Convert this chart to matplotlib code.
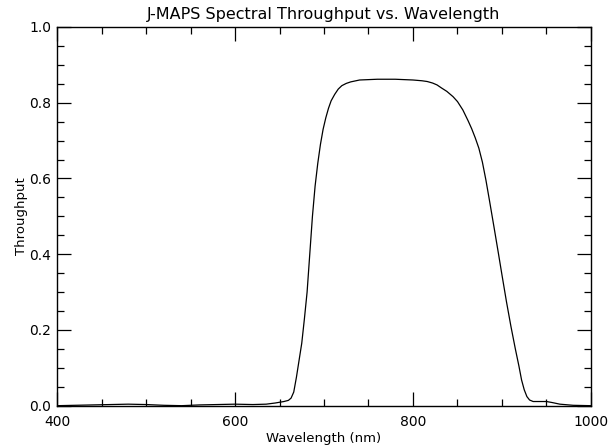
import matplotlib
matplotlib.use("Agg")
import matplotlib.pyplot as plt
from matplotlib.ticker import MultipleLocator, FormatStrFormatter

wavelength = [400, 420, 440, 460, 480, 500, 520, 540, 560, 580, 600, 620, 635, 645,
              650, 655, 660, 663, 666, 669, 672, 675, 678, 681, 684, 687, 690, 693,
              696, 699, 702, 705, 708, 712, 716, 720, 725, 730, 740, 750, 760, 770,
              780, 790, 800, 810, 816, 822, 827, 832, 838, 845, 850, 856, 862, 866,
              870, 874, 878, 882, 886, 891, 896, 900, 905, 910, 915, 919, 922, 925,
              928, 931, 935, 942, 950, 957, 965, 980, 1000]
throughput = [0.000, 0.001, 0.002, 0.003, 0.004, 0.003, 0.001, 0.000, 0.002, 0.003,
              0.004, 0.003, 0.004, 0.007, 0.009, 0.011, 0.014, 0.020, 0.036, 0.075,
              0.120, 0.165, 0.230, 0.300, 0.400, 0.500, 0.580, 0.640, 0.690, 0.730,
              0.760, 0.785, 0.805, 0.822, 0.836, 0.845, 0.851, 0.855, 0.860, 0.861,
              0.862, 0.862, 0.862, 0.861, 0.860, 0.858, 0.856, 0.852, 0.847, 0.839,
              0.830, 0.816, 0.803, 0.781, 0.752, 0.731, 0.707, 0.680, 0.643, 0.595,
              0.541, 0.472, 0.402, 0.345, 0.275, 0.210, 0.150, 0.105, 0.068, 0.042,
              0.024, 0.015, 0.011, 0.011, 0.011, 0.008, 0.004, 0.001, 0.000]

title = "J-MAPS Spectral Throughput vs. Wavelength"
xlabel = "Wavelength (nm)"
ylabel = "Throughput"

fig = plt.figure(figsize=(6.08, 4.46), dpi=100)
ax = fig.add_axes([0.0938, 0.0904, 0.8782, 0.8491])
ax.plot(wavelength, throughput, color="black", linewidth=0.9)
ax.set_xlim(400, 1000)
ax.set_ylim(0, 1.0)
ax.xaxis.set_major_locator(MultipleLocator(200))
ax.xaxis.set_minor_locator(MultipleLocator(50))
ax.yaxis.set_major_locator(MultipleLocator(0.2))
ax.yaxis.set_minor_locator(MultipleLocator(0.05))
ax.yaxis.set_major_formatter(FormatStrFormatter("%.1f"))
ax.tick_params(which="both", direction="in", top=True, right=True, width=0.9,
               labelsize=10, color="black")
ax.tick_params(which="major", length=10)
ax.tick_params(which="minor", length=5)
ax.tick_params(axis="x", pad=7)
ax.tick_params(axis="y", pad=4)
for s in ax.spines.values():
    s.set_linewidth(1.0)
ax.set_title(title, fontsize=11.5, pad=6)
ax.set_xlabel(xlabel, fontsize=9.5, labelpad=2)
ax.set_ylabel(ylabel, fontsize=9.5, labelpad=1)
fig.savefig("out.png", dpi=100)
